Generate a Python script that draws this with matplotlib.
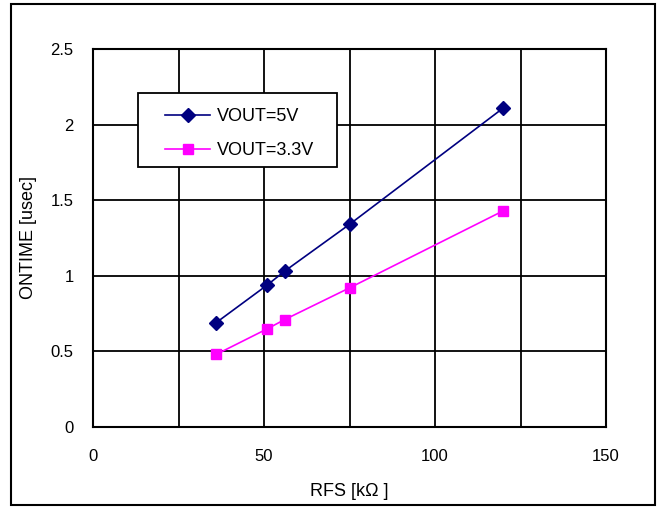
import matplotlib.pyplot as plt
from matplotlib.patches import Rectangle

rfs = [36, 51, 56, 75, 120]
t_5v = [0.69, 0.94, 1.03, 1.34, 2.11]
t_33v = [0.48, 0.65, 0.71, 0.92, 1.43]

plt.rcParams['font.family'] = ['Liberation Sans', 'DejaVu Sans']

fig = plt.figure(figsize=(6.62, 5.09), dpi=100)
ax = fig.add_axes([0.1405, 0.161, 0.775, 0.743])

ax.plot(rfs, t_5v, "D-", color="#000080", markersize=7.5, lw=1.2, label="VOUT=5V")
ax.plot(rfs, t_33v, "s-", color="#FF00FF", markersize=7, lw=1.2, label="VOUT=3.3V")

ax.set_xlim(0, 150)
ax.set_ylim(0, 2.5)
ax.set_xticks([0, 50, 100, 150])
ax.set_yticks([0, 0.5, 1, 1.5, 2, 2.5])
ax.set_yticklabels(["0", "0.5", "1", "1.5", "2", "2.5"])
ax.set_xticks([25, 75, 125], minor=True)
ax.grid(True, which="both", color="black", lw=1.3)
ax.tick_params(which="both", length=0, labelsize=12)
ax.tick_params(axis="x", pad=16)
ax.tick_params(axis="y", pad=14)
for s in ax.spines.values():
    s.set_linewidth(1.5)
ax.set_axisbelow(True)

ax.set_xlabel("RFS [kΩ ]", fontsize=13)
ax.set_ylabel("ONTIME [usec]", fontsize=13)
ax.xaxis.set_label_coords(0.5, -0.148)
ax.yaxis.set_label_coords(-0.109, 0.5)

# legend box drawn separately
ax.add_patch(Rectangle((0.0877, 0.688), 0.388, 0.196, transform=ax.transAxes,
                       facecolor="white", edgecolor="black", lw=1.3, zorder=4.5))
leg = ax.legend(loc="upper left", bbox_to_anchor=(0.1404, 0.844), fontsize=13,
                frameon=False, handlelength=2.5, handletextpad=0.4,
                borderpad=0, borderaxespad=0, labelspacing=0.95)
leg.set_zorder(5)

fig.patches.append(Rectangle((0.016, 0.008), 0.974, 0.984, transform=fig.transFigure,
                             fill=False, edgecolor="black", lw=1.5))

fig.savefig("out.png", dpi=100)
